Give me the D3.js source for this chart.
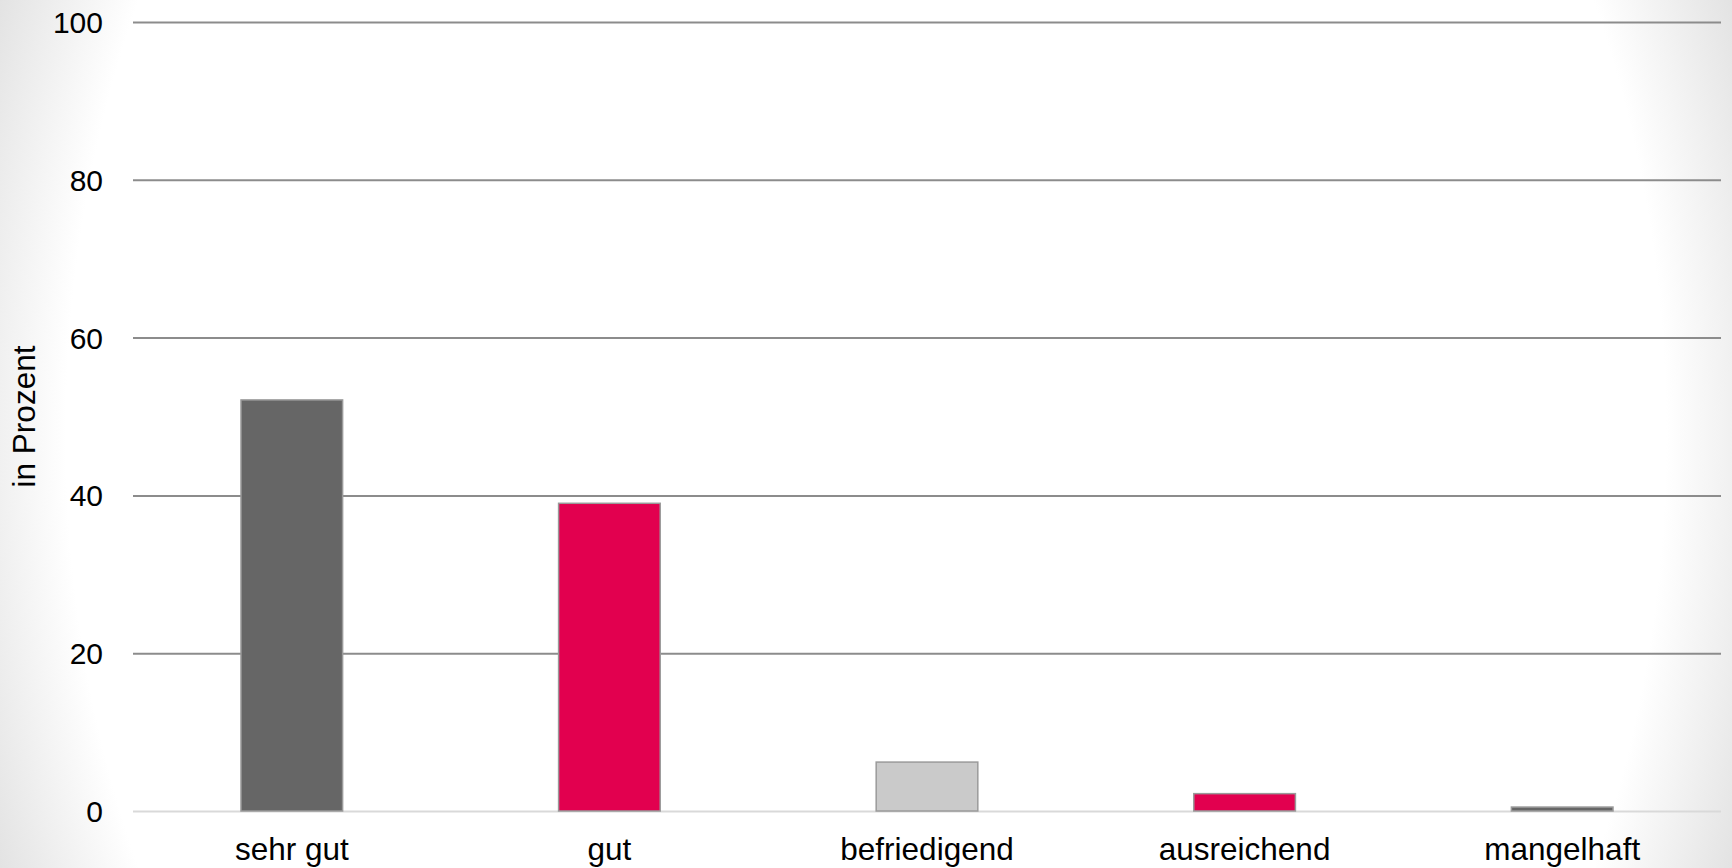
<!DOCTYPE html>
<html>
<head>
<meta charset="utf-8">
<script src="https://cdn.jsdelivr.net/npm/d3@7"></script>
<style>
  html, body { margin: 0; padding: 0; }
  body { width: 1732px; height: 868px; overflow: hidden; }
  svg { display: block; font-family: "Liberation Sans", Arial, sans-serif; }
</style>
</head>
<body>
<svg id="chart" width="1732" height="868"></svg>
<script>
// Ratings and their shares in percent
const categories = ["sehr gut", "gut", "befriedigend", "ausreichend", "mangelhaft"];
const values = [52.1, 39.0, 6.2, 2.2, 0.5];
const barColors = ["#666666", "#e2004f", "#cacaca", "#e2004f", "#666666"];
const yTicks = [0, 20, 40, 60, 80, 100];
const yTitle = "in Prozent";

const W = 1732, H = 868;
const margin = { top: 22, right: 11, bottom: 57, left: 133 };
const innerW = W - margin.left - margin.right;
const innerH = H - margin.top - margin.bottom;

const svg = d3.select("#chart");

// soft radial vignette behind the chart
const defs = svg.append("defs");
const grad = defs.append("radialGradient")
  .attr("id", "bg")
  .attr("gradientUnits", "userSpaceOnUse")
  .attr("cx", W / 2).attr("cy", H / 2)
  .attr("r", 1000)
  .attr("gradientTransform", `translate(${W / 2},${H / 2}) scale(1,1.3) translate(${-W / 2},${-H / 2})`);
grad.append("stop").attr("offset", 0).attr("stop-color", "#ffffff");
grad.append("stop").attr("offset", 0.8).attr("stop-color", "#ffffff");
grad.append("stop").attr("offset", 0.95).attr("stop-color", "#dedede");
grad.append("stop").attr("offset", 1).attr("stop-color", "#dadada");
svg.append("rect").attr("width", W).attr("height", H).attr("fill", "url(#bg)");

const g = svg.append("g").attr("transform", `translate(${margin.left},${margin.top})`);

const x = d3.scaleBand()
  .domain(categories)
  .range([0, innerW])
  .paddingInner(0.68)
  .paddingOuter(0.34);

const y = d3.scaleLinear().domain([0, 100]).range([innerH, 0]);

// horizontal gridlines with value labels
const yAxis = g.append("g")
  .call(d3.axisLeft(y).tickValues(yTicks).tickSize(-innerW).tickPadding(30).tickFormat(d3.format("d")));
yAxis.select(".domain").remove();
yAxis.selectAll(".tick line")
  .attr("stroke", d => d === 0 ? "#d9d9d9" : "#8c8c8c")
  .attr("stroke-width", 2);
yAxis.selectAll(".tick text")
  .attr("fill", "#000")
  .style("font-size", "30px")
  .attr("dy", "0.35em");

// bars
g.selectAll("rect.bar")
  .data(categories)
  .join("rect")
  .attr("class", "bar")
  .attr("x", d => x(d))
  .attr("width", x.bandwidth())
  .attr("y", (d, i) => y(values[i]))
  .attr("height", (d, i) => y(0) - y(values[i]))
  .attr("fill", (d, i) => barColors[i])
  .attr("stroke", "#9a9a9a")
  .attr("stroke-width", 1.5);

// category labels
const xAxis = g.append("g")
  .attr("transform", `translate(0,${innerH})`)
  .call(d3.axisBottom(x).tickSize(0).tickPadding(0));
xAxis.select(".domain").remove();
xAxis.selectAll(".tick text")
  .attr("fill", "#000")
  .attr("y", 49)
  .attr("dy", 0)
  .style("font-size", "31.5px");

// y-axis title
svg.append("text")
  .attr("transform", `translate(35,${margin.top + innerH / 2}) rotate(-90)`)
  .attr("text-anchor", "middle")
  .attr("fill", "#000")
  .style("font-size", "31.5px")
  .text(yTitle);
</script>
</body>
</html>
